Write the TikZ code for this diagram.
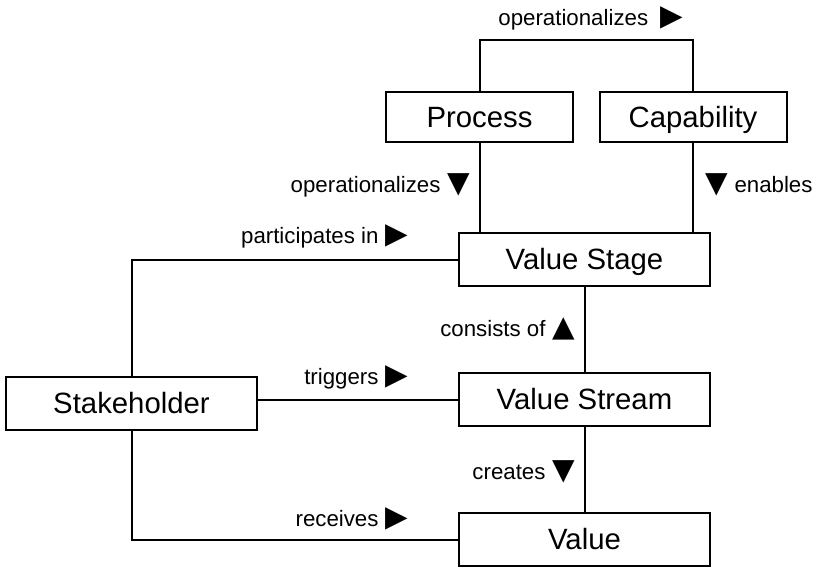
\documentclass[tikz,border=0pt]{standalone}
\usepackage{fontspec}
\setmainfont{Liberation Sans}
\newfontfamily\symfont{DejaVu Sans}
\usetikzlibrary{calc}

\newcommand\rtri{{\symfont\fontsize{22}{22}\selectfont ▶}}
\newcommand\dtri{{\symfont\fontsize{22}{22}\selectfont ▼}}
\newcommand\utri{{\symfont\fontsize{22}{22}\selectfont ▲}}

\tikzset{
  entity/.style={draw, line width=1.5pt, minimum width=188.25pt, minimum height=39.75pt,
    inner sep=0pt, text height=15.7pt, text depth=0pt, font=\fontsize{22}{26}\selectfont},
  smallentity/.style={entity, minimum width=140.25pt, minimum height=37.5pt},
  rel/.style={inner sep=0pt, font=\fontsize{16.7}{20}\selectfont},
  link/.style={line width=1.5pt}
}

\begin{document}
\begin{tikzpicture}[x=0.75pt, y=-0.75pt]
    \useasboundingbox (0,0) rectangle (827,578); % page size as the reference

    \node[smallentity] (proc) at (479.5,117) {Process};
    \node[smallentity] (cap) at (693,117) {Capability};
    \node[entity] (stage) at (584.5,259.5) {Value Stage};
    \node[entity] (stream) at (584.5,399.5) {Value Stream};
    \node[entity] (value) at (584.5,539.5) {Value};
    \node[entity] (stake) at (131.5,403.5) {Stakeholder};
    \coordinate (topbar) at (585,40);

    \draw[link] (proc.north) |- (topbar) -| (cap.north);
    \draw[link] (proc.south) -- (proc.south |- stage.north);
    \draw[link] (cap.south) -- (cap.south |- stage.north);
    \draw[link] (stake.north) |- (stage.west);
    \draw[link] (stream.west -| stake.east) -- (stream.west);
    \draw[link] (stake.south) |- (value.west);
    \draw[link] (stage.south) -- (stream.north);
    \draw[link] (stream.south) -- (value.north);

    \node[rel, anchor=east] (l1) at (683,18) {operationalizes\hspace{9pt}\rtri};
    \node[rel, anchor=east] (l2) at (470,185) {operationalizes\hspace{5pt}\dtri};
    \node[rel, anchor=west] (l3) at (705,185) {\dtri\hspace{5pt}enables};
    \node[rel, anchor=east] (l4) at (408,236) {participates in\hspace{5pt}\rtri};
    \node[rel, anchor=east] (l5) at (575,329) {consists of\hspace{5pt}\utri};
    \node[rel, anchor=east] (l6) at (408,377) {triggers\hspace{5pt}\rtri};
    \node[rel, anchor=east] (l7) at (575,472) {creates\hspace{5pt}\dtri};
    \node[rel, anchor=east] (l8) at (408,519) {receives\hspace{5pt}\rtri};
\end{tikzpicture}
\end{document}
